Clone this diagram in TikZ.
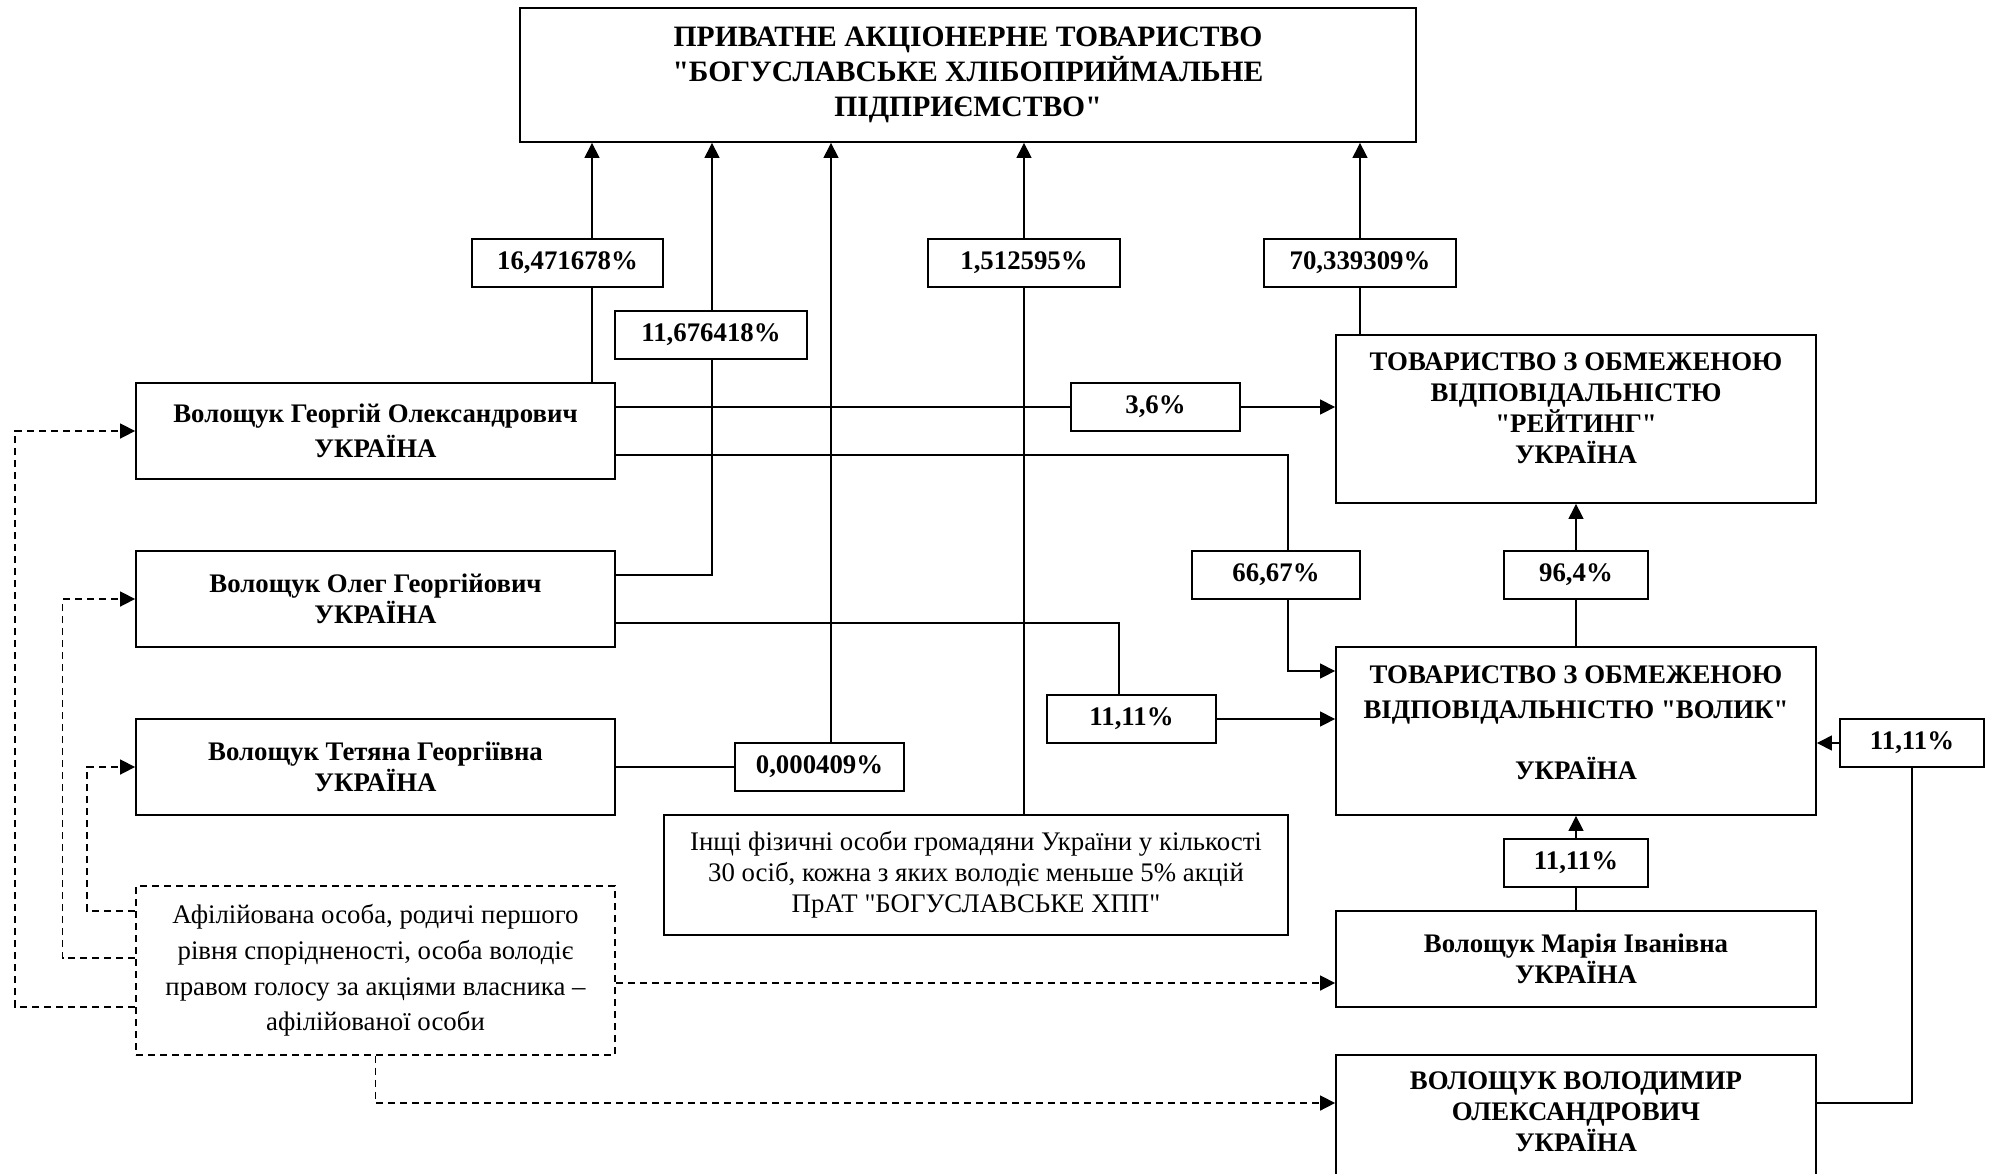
\documentclass[tikz,border=0pt]{standalone}
\usepackage{fontspec}
\setmainfont{Liberation Serif}[Ligatures=TeXOff]
\usetikzlibrary{arrows.meta,backgrounds}
\begin{document}
\begin{tikzpicture}[x=0.5pt,y=-0.5pt,
  box/.style={draw, line width=0.9pt, fill=white, inner sep=0pt, align=center,
    font=\fontsize{13.4}{15.5}\selectfont\bfseries},
  plain/.style={draw, line width=0.9pt, fill=white, inner sep=0pt, align=center,
    font=\fontsize{13.4}{15.5}\selectfont},
  txt/.style={inner sep=0pt, align=center, font=\fontsize{13.4}{15.5}\selectfont\bfseries},
  pct/.style={box, minimum height=24pt},
  conn/.style={line width=0.6pt},
  arr/.style={conn, -{Triangle[length=7.5pt,width=7.5pt]}},
  darr/.style={line width=0.8pt, dash pattern=on 3.5pt off 2.5pt, -{Triangle[length=7.5pt,width=7.5pt]}}
]
\useasboundingbox (0,0) rectangle (1991,1173);

% main boxes
\node[box, minimum width=448pt, minimum height=67pt, font=\fontsize{14.8}{17.5}\selectfont\bfseries] (top) at (968,75)
  {ПРИВАТНЕ АКЦІОНЕРНЕ ТОВАРИСТВО\\"БОГУСЛАВСЬКЕ ХЛІБОПРИЙМАЛЬНЕ\\ПІДПРИЄМСТВО"};
\node[box, minimum width=239.5pt, minimum height=48pt, font=\fontsize{13.4}{17.5}\selectfont\bfseries] (geo) at (375.5,431)
  {Волощук Георгій Олександрович\\УКРАЇНА};
\node[box, minimum width=239.5pt, minimum height=48pt] (oleg) at (375.5,599)
  {Волощук Олег Георгійович\\УКРАЇНА};
\node[box, minimum width=239.5pt, minimum height=48pt] (tet) at (375.5,767)
  {Волощук Тетяна Георгіївна\\УКРАЇНА};
\node[plain, minimum width=312pt, minimum height=60pt] (oth) at (976,875)
  {Інщі фізичні особи громадяни України у кількості\\30 осіб, кожна з яких володіє меньше 5\% акцій\\ПрАТ "БОГУСЛАВСЬКЕ ХПП"};
\node[plain, dash pattern=on 3.5pt off 2.5pt, minimum width=239.5pt, minimum height=84.5pt, font=\fontsize{13.4}{17.8}\selectfont] (aff) at (375.5,970.5)
  {Афілійована особа, родичі першого\\рівня спорідненості, особа володіє\\правом голосу за акціями власника –\\афілійованої особи};

\node[box, minimum width=240pt, minimum height=84pt] (rating) at (1576,419) {};
\node[txt] (ratingt) at (1576,408) {ТОВАРИСТВО З ОБМЕЖЕНОЮ\\ВІДПОВІДАЛЬНІСТЮ\\"РЕЙТИНГ"\\УКРАЇНА};
\node[box, minimum width=240pt, minimum height=84pt] (volyk) at (1576,731) {};
\node[txt, font=\fontsize{13.4}{17.5}\selectfont\bfseries] (volykt) at (1576,723) {ТОВАРИСТВО З ОБМЕЖЕНОЮ\\ВІДПОВІДАЛЬНІСТЮ "ВОЛИК"\\[13pt]УКРАЇНА};
\node[box, minimum width=240pt, minimum height=48pt] (maria) at (1576,959)
  {Волощук Марія Іванівна\\УКРАЇНА};
\node[box, minimum width=240pt, minimum height=65pt] (volod) at (1576,1120) {};
\node[txt] (volodt) at (1576,1112) {ВОЛОЩУК ВОЛОДИМИР\\ОЛЕКСАНДРОВИЧ\\УКРАЇНА};

% percentage boxes
\node[pct, minimum width=95.5pt] (p1) at (567.5,263) {16,471678\%};
\node[pct, minimum width=96pt] (p2) at (711,335) {11,676418\%};
\node[pct, minimum width=96pt] (p3) at (1024,263) {1,512595\%};
\node[pct, minimum width=96pt] (p4) at (1360,263) {70,339309\%};
\node[pct, minimum width=84.5pt] (p36) at (1155.5,407) {3,6\%};
\node[pct, minimum width=84pt] (p6667) at (1276,575) {66,67\%};
\node[pct, minimum width=72pt] (p964) at (1576,575) {96,4\%};
\node[pct, minimum width=84.5pt] (p1111a) at (1131.5,719) {11,11\%};
\node[pct, minimum width=72pt] (p1111r) at (1912,743) {11,11\%};
\node[pct, minimum width=72pt] (p1111m) at (1576,863) {11,11\%};
\node[pct, minimum width=84.5pt] (p0004) at (819.5,767) {0,000409\%};

% helper coordinates
\coordinate (cx1) at (592,0);
\coordinate (cx2) at (712,0);
\coordinate (cx3) at (831,0);
\coordinate (cx4) at (1024,0);
\coordinate (cx5) at (1360,0);
\coordinate (cx6) at (1288,0);
\coordinate (cx7) at (1119,0);
\coordinate (dx1) at (87,0);
\coordinate (dx2) at (62.5,0);
\coordinate (dx3) at (15,0);
\coordinate (v1) at ([yshift=30pt]volyk.west);
\coordinate (v2) at ([yshift=6pt]volyk.west);
\coordinate (v3) at ([yshift=-6pt]volyk.east);
\coordinate (mi) at ([yshift=-12pt]maria.west);
\coordinate (vo) at ([yshift=8.5pt]volod.west);
\coordinate (vr) at ([yshift=8.5pt]volod.east);

\begin{scope}[on background layer]
\fill[white] (0,0) rectangle (1991,1173);
% to the top company
\draw[arr] (cx1 |- geo.north) -- (cx1 |- top.south);
\draw[arr] ([yshift=12pt]oleg.east) -| (cx2 |- top.south);
\draw[conn] (tet.east) -- (p0004.west);
\draw[arr] (cx3 |- p0004.north) -- (cx3 |- top.south);
\draw[arr] (cx4 |- oth.north) -- (cx4 |- top.south);
\draw[arr] (cx5 |- rating.north) -- (cx5 |- top.south);
% to Rating
\draw[arr] ([yshift=12pt]geo.east) -- (rating.west |- p36);
\draw[arr] (volyk.north) -- (rating.south);
% to Volyk
\draw[arr] ([yshift=-12pt]geo.east) -| (cx6 |- v1) -- (v1);
\draw[conn] ([yshift=-12pt]oleg.east) -| (cx7 |- p1111a.north);
\draw[arr] (p1111a.east) -- (v2);
\draw[arr] (maria.north) -- (volyk.south);
\draw[conn] (vr) -| (p1111r.south);
\draw[arr] (p1111r.west) -- (v3);
% affiliation (dashed)
\draw[darr] ([yshift=29.75pt]aff.west) -| (dx1 |- tet.west) -- (tet.west);
\draw[darr] ([yshift=6.25pt]aff.west) -| (dx2 |- oleg.west) -- (oleg.west);
\draw[darr] ([yshift=-18.25pt]aff.west) -| (dx3 |- geo.west) -- (geo.west);
\draw[darr] ([yshift=-6.25pt]aff.east) -- (mi);
\draw[darr] (aff.south) |- (vo);
\end{scope}
\end{tikzpicture}
\end{document}
